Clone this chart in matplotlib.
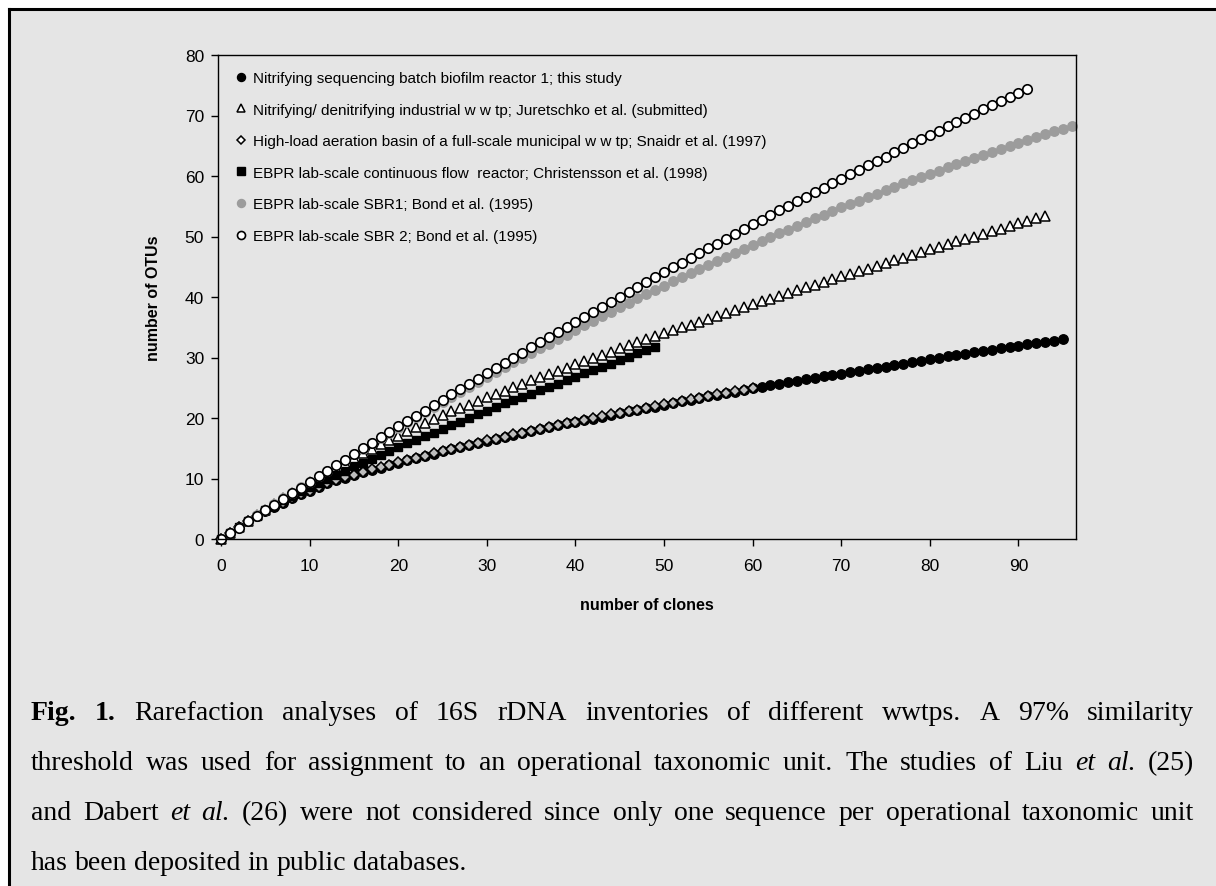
import numpy as np
import matplotlib
matplotlib.use("Agg")
import matplotlib.pyplot as plt
from matplotlib.patches import Rectangle
from matplotlib.lines import Line2D

plt.rcParams['font.family'] = ['Liberation Sans', 'DejaVu Sans']

# ---------------- data (OTUs at 0,1,2,... clones) ----------------
labels = [
    "Nitrifying sequencing batch biofilm reactor 1; this study",
    "Nitrifying/ denitrifying industrial w w tp; Juretschko et al. (submitted)",
    "High-load aeration basin of a full-scale municipal w w tp; Snaidr et al. (1997)",
    "EBPR lab-scale continuous flow  reactor; Christensson et al. (1998)",
    "EBPR lab-scale SBR1; Bond et al. (1995)",
    "EBPR lab-scale SBR 2; Bond et al. (1995)",
]

sbbr1 = [0, 1, 2, 2.9, 3.8, 4.6, 5.3, 6.0, 6.7, 7.4,
         8.0, 8.6, 9.2, 9.7, 10.1, 10.6, 11.0, 11.4, 11.8, 12.2,
         12.6, 13.0, 13.4, 13.7, 14.1, 14.5, 14.8, 15.2, 15.5, 15.9,
         16.2, 16.5, 16.9, 17.2, 17.5, 17.8, 18.1, 18.5, 18.8, 19.1,
         19.4, 19.7, 19.9, 20.2, 20.5, 20.8, 21.1, 21.4, 21.7, 21.9,
         22.2, 22.5, 22.8, 23.0, 23.3, 23.6, 23.8, 24.1, 24.3, 24.6,
         24.9, 25.1, 25.4, 25.6, 25.9, 26.1, 26.4, 26.6, 26.9, 27.1,
         27.3, 27.6, 27.8, 28.1, 28.3, 28.5, 28.8, 29.0, 29.3, 29.5,
         29.7, 29.9, 30.2, 30.4, 30.6, 30.9, 31.1, 31.3, 31.5, 31.7,
         31.9, 32.2, 32.4, 32.6, 32.8, 33.0]

juretschko = [0, 1, 2, 2.95, 3.9, 4.85, 5.8, 6.7, 7.6, 8.5,
              9.35, 10.2, 11.0, 11.8, 12.6, 13.4, 14.2, 14.9, 15.7, 16.4,
              17.1, 17.8, 18.5, 19.2, 19.9, 20.5, 21.1, 21.7, 22.2, 22.8,
              23.4, 24.0, 24.5, 25.1, 25.6, 26.2, 26.7, 27.2, 27.8, 28.3,
              28.9, 29.4, 29.9, 30.4, 30.9, 31.5, 32.0, 32.5, 33.0, 33.5,
              34.0, 34.5, 35.0, 35.4, 35.9, 36.4, 36.9, 37.4, 37.8, 38.3,
              38.8, 39.3, 39.7, 40.2, 40.6, 41.1, 41.6, 42.0, 42.5, 42.9,
              43.4, 43.8, 44.3, 44.7, 45.2, 45.7, 46.1, 46.5, 47.0, 47.4,
              47.9, 48.3, 48.7, 49.2, 49.6, 50.0, 50.4, 50.9, 51.3, 51.7,
              52.2, 52.6, 53.0, 53.4]

snaidr = [0, 1, 2, 2.9, 3.8, 4.6, 5.3, 6.0, 6.7, 7.4,
          8.0, 8.6, 9.2, 9.7, 10.2, 10.6, 11.0, 11.5, 11.9, 12.3,
          12.7, 13.1, 13.4, 13.8, 14.2, 14.5, 14.9, 15.2, 15.6, 15.9,
          16.3, 16.6, 16.9, 17.3, 17.6, 17.9, 18.2, 18.5, 18.8, 19.1,
          19.4, 19.7, 20.0, 20.3, 20.6, 20.9, 21.2, 21.4, 21.7, 22.0,
          22.3, 22.5, 22.8, 23.1, 23.3, 23.6, 23.9, 24.1, 24.4, 24.6,
          24.9]

christensson = [0, 1, 2, 2.9, 3.85, 4.75, 5.6, 6.4, 7.1, 7.9,
                8.6, 9.3, 10.0, 10.6, 11.3, 12.0, 12.6, 13.3, 13.9, 14.5,
                15.2, 15.8, 16.4, 17.0, 17.6, 18.2, 18.8, 19.4, 20.0, 20.6,
                21.2, 21.8, 22.4, 22.9, 23.5, 24.0, 24.6, 25.2, 25.7, 26.3,
                26.8, 27.4, 27.9, 28.5, 29.0, 29.6, 30.1, 30.7, 31.2, 31.7]

bond_sbr1 = [0, 1.0, 1.9, 2.9, 3.9, 4.8, 5.8, 6.7, 7.6, 8.6,
             9.5, 10.4, 11.3, 12.2, 13.1, 14.0, 14.9, 15.8, 16.7, 17.5,
             18.4, 19.3, 20.1, 21.0, 21.8, 22.7, 23.5, 24.3, 25.1, 26.0,
             26.8, 27.6, 28.4, 29.2, 30.0, 30.8, 31.5, 32.3, 33.1, 33.8,
             34.6, 35.4, 36.1, 36.8, 37.6, 38.3, 39.0, 39.8, 40.5, 41.2,
             41.9, 42.6, 43.3, 44.0, 44.6, 45.3, 46.0, 46.6, 47.3, 48.0,
             48.6, 49.2, 49.9, 50.5, 51.1, 51.8, 52.4, 53.0, 53.6, 54.2,
             54.8, 55.4, 55.9, 56.5, 57.1, 57.7, 58.2, 58.8, 59.3, 59.9,
             60.4, 60.9, 61.5, 62.0, 62.5, 63.0, 63.5, 64.0, 64.5, 65.0,
             65.5, 66.0, 66.4, 66.9, 67.4, 67.8, 68.3]

bond_sbr2 = [0, 1.0, 1.9, 2.9, 3.8, 4.8, 5.7, 6.6, 7.6, 8.5,
             9.4, 10.4, 11.3, 12.2, 13.1, 14.0, 15.0, 15.9, 16.8, 17.7,
             18.6, 19.5, 20.4, 21.2, 22.1, 23.0, 23.9, 24.8, 25.6, 26.5,
             27.4, 28.2, 29.1, 30.0, 30.8, 31.7, 32.5, 33.4, 34.2, 35.0,
             35.9, 36.7, 37.5, 38.4, 39.2, 40.0, 40.8, 41.7, 42.5, 43.3,
             44.1, 44.9, 45.7, 46.5, 47.3, 48.1, 48.8, 49.6, 50.4, 51.2,
             52.0, 52.7, 53.5, 54.3, 55.0, 55.8, 56.5, 57.3, 58.0, 58.8,
             59.5, 60.3, 61.0, 61.8, 62.5, 63.2, 63.9, 64.7, 65.4, 66.1,
             66.8, 67.5, 68.2, 68.9, 69.6, 70.3, 71.0, 71.7, 72.4, 73.1,
             73.8, 74.4]

x_ticks = [0, 10, 20, 30, 40, 50, 60, 70, 80, 90]
y_ticks = [0, 10, 20, 30, 40, 50, 60, 70, 80]

caption_lines = [
    [("Fig.", "b"), ("1.", "b"), ("Rarefaction", ""), ("analyses", ""), ("of", ""), ("16S", ""),
     ("rDNA", ""), ("inventories", ""), ("of", ""), ("different", ""), ("wwtps.", ""), ("A", ""),
     ("97%", ""), ("similarity", "")],
    [(w, "") for w in "threshold was used for assignment to an operational taxonomic unit. The studies of Liu".split()]
    + [("et", "i"), ("al.", "i"), ("(25)", "")],
    [("and", ""), ("Dabert", ""), ("et", "i"), ("al.", "i")]
    + [(w, "") for w in "(26) were not considered since only one sequence per operational taxonomic unit".split()],
    [(w, "") for w in "has been deposited in public databases.".split()],
]

# ---------------- figure ----------------
W, H = 1216, 887
fig = plt.figure(figsize=(W / 100, H / 100), dpi=100)
fig.patch.set_facecolor("white")
BG = "#e5e5e5"

fig.patches.append(Rectangle((9 / W, 0), 1 - 9 / W, 1 - 10 / H, transform=fig.transFigure,
                             facecolor=BG, edgecolor="none", zorder=-5))
fig.lines.append(Line2D([9 / W, 9 / W], [0, 1 - 10 / H], transform=fig.transFigure, color="black", lw=2.2))
fig.lines.append(Line2D([9 / W, 1], [1 - 10 / H, 1 - 10 / H], transform=fig.transFigure, color="black", lw=2.2))

ax = fig.add_axes([218 / W, 1 - 540 / H, (1076 - 218) / W, (540 - 56) / H])
ax.set_facecolor("none")

styles = [
    dict(marker="o", ms=6.8, mfc="black", mec="black", mew=1.0),
    dict(marker="^", ms=7.2, mfc="white", mec="black", mew=1.1),
    dict(marker="D", ms=4.6, mfc="#bdbdbd", mec="black", mew=1.1),
    dict(marker="s", ms=6.3, mfc="black", mec="black", mew=1.0),
    dict(marker="o", ms=6.8, mfc="#9c9c9c", mec="#9c9c9c", mew=1.0),
    dict(marker="o", ms=6.8, mfc="white", mec="black", mew=1.2),
]
series = [sbbr1, juretschko, snaidr, christensson, bond_sbr1, bond_sbr2]
for vals, st, lab in zip(series, styles, labels):
    xs = np.arange(len(vals))
    ax.plot(xs, vals, linestyle="none", label=lab, clip_on=False, **st)

ax.set_xlim(-0.35, 96.5)
ax.set_ylim(0, 80)
ax.set_xticks(x_ticks)
ax.set_yticks(y_ticks)
for s in ax.spines.values():
    s.set_linewidth(1.0)
    s.set_color("black")
ax.tick_params(axis="both", direction="out", length=5, width=1.0, labelsize=12.5, colors="black")
ax.tick_params(axis="x", pad=9)
ax.tick_params(axis="y", pad=5)

fig.text(153 / W, 1 - 298 / H, "number of OTUs", rotation=90, ha="center", va="center",
         fontsize=11.5, fontweight="bold")
fig.text(647 / W, 1 - 606 / H, "number of clones", ha="center", va="center",
         fontsize=11.5, fontweight="bold")

# legend with proxy markers (diamond drawn white in the key)
proxies = []
for st in styles:
    st2 = dict(st)
    if st2["marker"] == "D":
        st2["mfc"] = "white"
    proxies.append(Line2D([], [], linestyle="none", **st2))
ax.legend(handles=proxies, labels=labels, loc="upper left", bbox_to_anchor=(235 / W, 1 - 72 / H),
          bbox_transform=fig.transFigure, frameon=False, fontsize=11,
          handlelength=0.75, handletextpad=0.4, labelspacing=1.15,
          borderpad=0, borderaxespad=0, markerscale=0.85)

# ---------------- caption (justified) ----------------
CAP_FS = 20
L, R = 31, 1194
renderer = fig.canvas.get_renderer()


def make_text(word, st):
    return fig.text(0, 0, word, fontsize=CAP_FS, family="Liberation Serif",
                    fontweight="bold" if st == "b" else "normal",
                    fontstyle="italic" if st == "i" else "normal",
                    ha="left", va="baseline", color="black")


tmp1 = make_text("a a", "")
tmp2 = make_text("aa", "")
space_w = tmp1.get_window_extent(renderer).width - tmp2.get_window_extent(renderer).width
tmp1.remove()
tmp2.remove()

base0 = 720
step = 50
for i, line in enumerate(caption_lines):
    texts = [make_text(w, st) for w, st in line]
    widths = [t.get_window_extent(renderer).width for t in texts]
    if i < len(caption_lines) - 1:
        gap = (R - L - sum(widths)) / (len(texts) - 1)
    else:
        gap = space_w
    xcur = L
    yb = 1 - (base0 + i * step) / H
    for t, w in zip(texts, widths):
        t.set_position((xcur / W, yb))
        xcur += w + gap

fig.savefig("out.png", dpi=100, facecolor=fig.get_facecolor())
